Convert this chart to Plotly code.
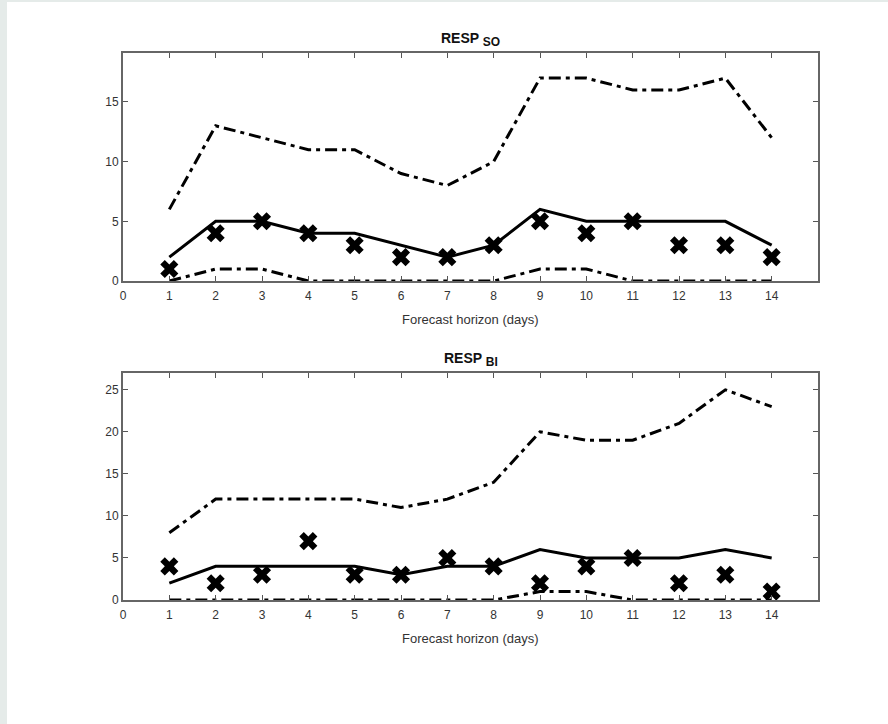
import plotly.graph_objects as go

days = list(range(1, 15))

# RESP_SO
so_upper = [6, 13, 12, 11, 11, 9, 8, 10, 17, 17, 16, 16, 17, 12]
so_median = [2, 5, 5, 4, 4, 3, 2, 3, 6, 5, 5, 5, 5, 3]
so_lower = [0, 1, 1, 0, 0, 0, 0, 0, 1, 1, 0, 0, 0, 0]
so_obs = [1, 4, 5, 4, 3, 2, 2, 3, 5, 4, 5, 3, 3, 2]

# RESP_BI
bi_upper = [8, 12, 12, 12, 12, 11, 12, 14, 20, 19, 19, 21, 25, 23]
bi_median = [2, 4, 4, 4, 4, 3, 4, 4, 6, 5, 5, 5, 6, 5]
bi_lower = [0, 0, 0, 0, 0, 0, 0, 0, 1, 1, 0, 0, 0, 0]
bi_obs = [4, 2, 3, 7, 3, 3, 5, 4, 2, 4, 5, 2, 3, 1]

x_ticks = list(range(0, 15))
so_yticks = [0, 5, 10, 15]
bi_yticks = [0, 5, 10, 15, 20, 25]

W, H = 888, 724
ml, mr, mt, mb = 123, 70, 53, 124
ph = H - mt - mb
pw = W - ml - mr

def py(pix):
    return (H - mb - pix) / ph

def px(pix):
    return (pix - ml) / pw

top_dom = [py(281), 1.0]
bot_dom = [0.0, py(373)]

fig = go.Figure()
DASH = "12px,5px,4px,5px"

def add_panel(xa, ya, upper, median, lower, obs):
    fig.add_trace(go.Scatter(x=days, y=upper, mode="lines", xaxis=xa, yaxis=ya,
                             line=dict(color="black", width=3, dash=DASH), showlegend=False))
    fig.add_trace(go.Scatter(x=days, y=lower, mode="lines", xaxis=xa, yaxis=ya,
                             line=dict(color="black", width=3, dash=DASH), showlegend=False))
    fig.add_trace(go.Scatter(x=days, y=median, mode="lines", xaxis=xa, yaxis=ya,
                             line=dict(color="black", width=3), showlegend=False))
    fig.add_trace(go.Scatter(x=days, y=obs, mode="markers", xaxis=xa, yaxis=ya,
                             marker=dict(symbol="x", size=16, color="black",
                                         line=dict(width=0)),
                             showlegend=False))

add_panel("x", "y", so_upper, so_median, so_lower, so_obs)
add_panel("x2", "y2", bi_upper, bi_median, bi_lower, bi_obs)

axis_common = dict(showgrid=False, zeroline=False, showline=True, linecolor="#666666",
                   linewidth=2, mirror="ticks", ticks="inside", ticklen=5,
                   tickcolor="#555555", tickwidth=1,
                   tickfont=dict(family="Liberation Sans, Arial", size=12, color="#333333"))

fig.update_layout(
    width=W, height=H,
    margin=dict(l=ml, r=mr, t=mt, b=mb),
    paper_bgcolor="#e5ebe9",
    plot_bgcolor="white",
    xaxis=dict(domain=[0, 1], anchor="y", range=[0, 15], tickvals=x_ticks,
               ticklabelstandoff=3, **axis_common),
    yaxis=dict(domain=top_dom, anchor="x", range=[0, 19.1], tickvals=so_yticks, **axis_common),
    xaxis2=dict(domain=[0, 1], anchor="y2", range=[0, 15], tickvals=x_ticks,
                ticklabelstandoff=3, **axis_common),
    yaxis2=dict(domain=bot_dom, anchor="x2", range=[0, 27], tickvals=bi_yticks, **axis_common),
)

fig.add_shape(type="rect", xref="paper", yref="paper", x0=px(7), x1=px(W + 5),
              y0=py(H + 5), y1=py(2), fillcolor="white", line=dict(width=0), layer="below")

title_font = dict(family="Liberation Sans, Arial", size=14, color="#111111")
label_font = dict(family="Liberation Sans, Arial", size=13, color="#333333")

for sub, dom in [("SO", top_dom), ("BI", bot_dom)]:
    text = "<b>RESP <sub><span style='font-size:12px'>%s</span></sub></b>" % sub
    fig.add_annotation(text=text, xref="paper", yref="paper", x=0.5, y=dom[1],
                       xanchor="center", yanchor="bottom", yshift=2, showarrow=False,
                       font=title_font)
    fig.add_annotation(text="Forecast horizon (days)", xref="paper", yref="paper", x=0.5,
                       y=dom[0], xanchor="center", yanchor="top", yshift=-29,
                       showarrow=False, font=label_font)

fig.write_html("out.html")
